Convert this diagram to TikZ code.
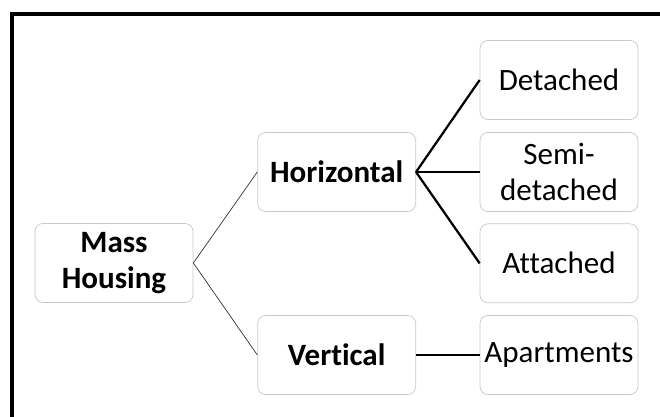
\documentclass[tikz,border=0pt]{standalone}
\usepackage{fontspec}
\setmainfont[Ligatures=NoCommon]{Carlito}
\usepackage{tikz}
\usetikzlibrary{positioning}
\definecolor{boxedge}{RGB}{200, 200, 200}

\begin{document}
\begin{tikzpicture}[
    every node/.style={font=\fontsize{26.5}{31}\selectfont},
    hbox/.style={draw=boxedge, line width=0.6pt, rounded corners=0.24cm, fill=white,
      minimum width=4.74cm, minimum height=2.37cm, inner sep=1pt, align=center},
    thinlink/.style={line width=0.6pt, draw=black!80},
    thicklink/.style={line width=1.9pt}]
  % canvas and frame
  \useasboundingbox (0,0) rectangle (19.8,-12.51);
  \clip (0,0) rectangle (19.8,-12.51);
  \draw[line width=3.4pt] (0.36,-14) -- (0.36,-0.42) -- (21,-0.42);

  % Root
  \node[hbox] (mass) at (3.42,-7.89) {\textbf{Mass}\\\textbf{Housing}};

  % First level
  \node[hbox] (horiz) at (10.10,-5.16) {\textbf{Horizontal}};
  \node[hbox] (vert) at (10.10,-10.65) {\textbf{Vertical}};

  % Second level
  \node[hbox] (detached) at (16.77,-2.40) {Detached};
  \node[hbox] (semi) at (16.77,-5.16) {Semi-\\detached};
  \node[hbox] (attached) at (16.77,-7.90) {Attached};
  \node[hbox] (apart) at (16.77,-10.65) {Apartments};

  % Links
  \draw[thinlink] (mass.east) -- (horiz.west);
  \draw[thinlink] (mass.east) -- (vert.west);
  \draw[thicklink] (horiz.east) -- (detached.west);
  \draw[thicklink] (horiz.east) -- (semi.west);
  \draw[thicklink] (horiz.east) -- (attached.west);
  \draw[thicklink] (vert.east) -- (apart.west);
\end{tikzpicture}
\end{document}
